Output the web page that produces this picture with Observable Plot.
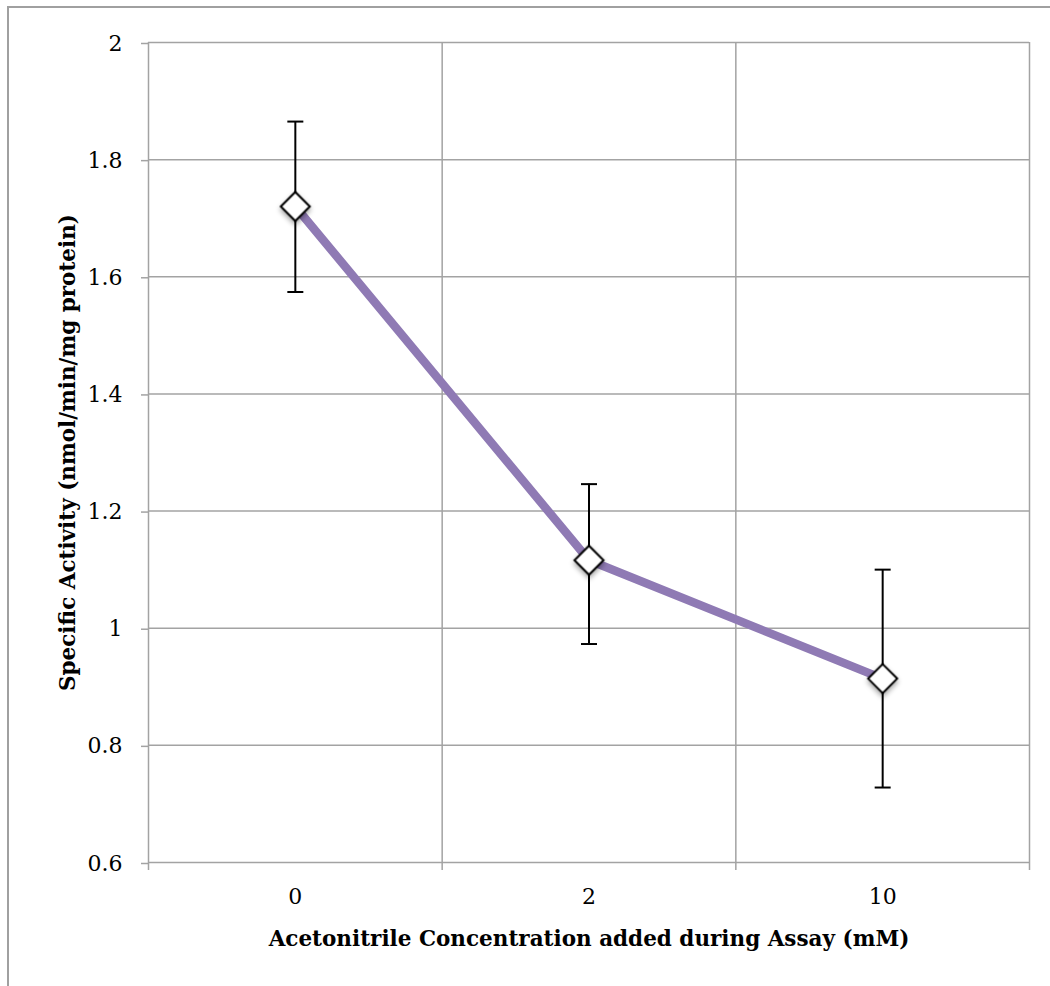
<!DOCTYPE html>
<html>
<head>
<meta charset="utf-8">
<script src="https://cdn.jsdelivr.net/npm/d3@7"></script>
<script src="https://cdn.jsdelivr.net/npm/@observablehq/plot@0.6"></script>
<style>
  html, body { margin: 0; padding: 0; background: #fff; overflow: hidden; }
  #page { position: relative; width: 1050px; height: 986px; }
  #outline {
    position: absolute; left: 7px; top: 6px; width: 1100px; height: 1100px;
    border-left: 2px solid #a0a0a0; border-top: 2px solid #a0a0a0;
  }
  #chart { position: absolute; left: 0; top: 0; }
  #chart svg { font-family: "DejaVu Serif", serif; }
</style>
</head>
<body>
<div id="page">
  <div id="outline"></div>
  <div id="chart"></div>
</div>
<script>
// Acetonitrile concentrations (mM) tested during the assay
const concentrations = ["0", "2", "10"];
// Mean specific activity (nmol/min/mg protein)
const activity = [1.72, 1.116, 0.914];
// Error bar limits
const errLow = [1.574, 0.973, 0.728];
const errHigh = [1.865, 1.246, 1.1];
// Y axis ticks
const yTicks = [0.6, 0.8, 1, 1.2, 1.4, 1.6, 1.8, 2];

const xTitle = "Acetonitrile Concentration added during Assay (mM)";
const yTitle = "Specific Activity (nmol/min/mg protein)";

// Each category occupies one unit-wide slot; points sit in the slot centre
const rows = concentrations.map((c, i) => ({
  pos: i + 0.5, label: c, value: activity[i], low: errLow[i], high: errHigh[i]
}));
const slotEdges = d3.range(concentrations.length + 1);

const gridColor = "#a3a3a3";

// Custom symbols: a horizontal cap line and a square diamond
const capSymbol = {
  draw(ctx, size) {
    const r = Math.sqrt(size / Math.PI);
    ctx.moveTo(-r, 0); ctx.lineTo(r, 0);
  }
};
const diamondSymbol = {
  draw(ctx, size) {
    const r = Math.sqrt(size / Math.PI);
    ctx.moveTo(0, -r); ctx.lineTo(r, 0); ctx.lineTo(0, r); ctx.lineTo(-r, 0); ctx.closePath();
  }
};

const chart = Plot.plot({
  width: 1050,
  height: 986,
  marginLeft: 148,
  marginTop: 42,
  marginRight: 21,
  marginBottom: 124,
  style: { fontFamily: "DejaVu Serif", color: "black", background: "transparent" },
  x: { domain: [0, concentrations.length] },
  y: { domain: [0.6, 2] },
  marks: [
    Plot.gridY(yTicks, { stroke: gridColor, strokeOpacity: 1, strokeWidth: 1.5 }),
    Plot.ruleX(slotEdges, { stroke: gridColor, strokeWidth: 1.5 }),
    Plot.axisY(yTicks, {
      tickSize: 7, tickPadding: 19, stroke: gridColor, strokeWidth: 1.5, strokeOpacity: 1,
      fill: "black", fontSize: 22, dy: 1, label: null, tickFormat: d => String(d)
    }),
    Plot.axisX(slotEdges, {
      tickSize: 8, stroke: gridColor, strokeWidth: 1.5, strokeOpacity: 1,
      tickFormat: () => "", label: null
    }),
    Plot.axisX(rows.map(d => d.pos), {
      tickSize: 0, tickPadding: 26, fill: "black", fontSize: 22, label: null,
      tickFormat: p => rows.find(d => d.pos === p).label
    }),
    Plot.text([xTitle], {
      frameAnchor: "bottom", dy: 83, fontSize: 21.5, fontWeight: "bold", fill: "black"
    }),
    Plot.text([yTitle], {
      frameAnchor: "left", textAnchor: "middle", dx: -80, rotate: -90,
      fontSize: 21.5, fontWeight: "bold", fill: "black"
    }),
    Plot.line(rows, { x: "pos", y: "value", stroke: "#8f7ab4", strokeWidth: 8.5 }),
    Plot.ruleX(rows, { x: "pos", y1: "low", y2: "high", stroke: "black", strokeWidth: 2 }),
    Plot.dot(rows, { x: "pos", y: "low", symbol: capSymbol, r: 8, stroke: "black", strokeWidth: 2 }),
    Plot.dot(rows, { x: "pos", y: "high", symbol: capSymbol, r: 8, stroke: "black", strokeWidth: 2 }),
    Plot.dot(rows, { x: "pos", y: "value", symbol: diamondSymbol, r: 14.5, fill: "white", stroke: "black", strokeWidth: 2 })
  ]
});

// Soft drop shadow under the diamond markers
const svg = d3.select(chart);
const defs = svg.insert("defs", ":first-child");
const f = defs.append("filter").attr("id", "markerShadow")
  .attr("x", "-50%").attr("y", "-50%").attr("width", "200%").attr("height", "200%");
f.append("feDropShadow").attr("dx", 0).attr("dy", 3).attr("stdDeviation", 2.5)
  .attr("flood-color", "#000").attr("flood-opacity", 0.35);
const dotGroups = svg.selectAll("g[aria-label='dot']").nodes();
d3.select(dotGroups[dotGroups.length - 1]).attr("filter", "url(#markerShadow)");

document.getElementById("chart").appendChild(chart);
</script>
</body>
</html>
